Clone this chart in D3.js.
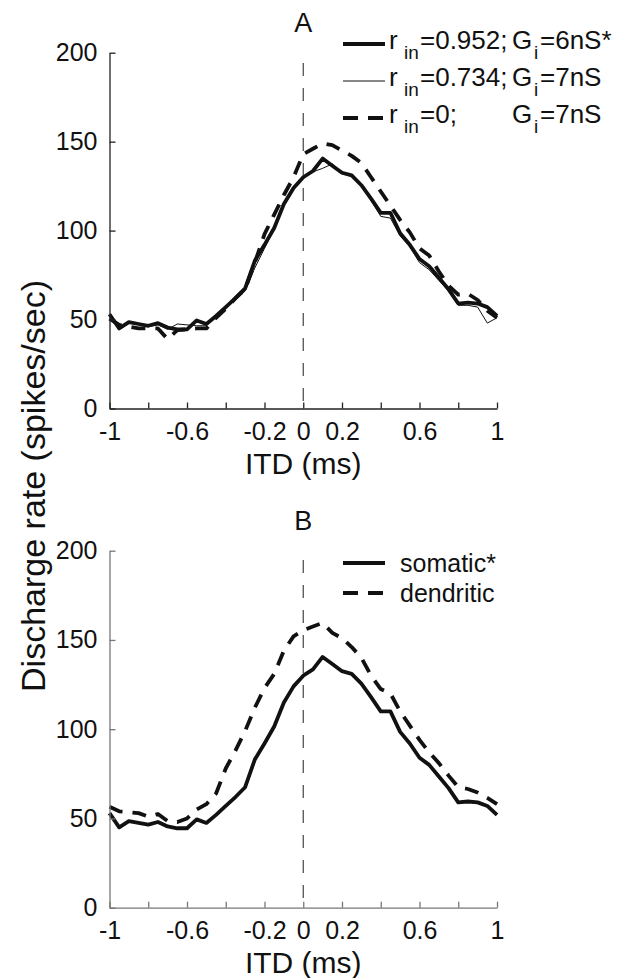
<!DOCTYPE html>
<html>
<head>
<meta charset="utf-8">
<script src="https://cdn.jsdelivr.net/npm/d3@7"></script>
<style>
  body { margin: 0; background: #fff; }
  svg { font-family: "Liberation Sans", Arial, Helvetica, sans-serif; }
</style>
</head>
<body>
<svg id="canvas" width="625" height="978"></svg>
<script>
// ITD values (ms), one sample every 0.05 ms
const itd = [-1, -0.95, -0.9, -0.85, -0.8, -0.75, -0.7, -0.65, -0.6, -0.55, -0.5,
  -0.45, -0.4, -0.35, -0.3, -0.25, -0.2, -0.15, -0.1, -0.05, 0,
  0.05, 0.1, 0.15, 0.2, 0.25, 0.3, 0.35, 0.4, 0.45, 0.5,
  0.55, 0.6, 0.65, 0.7, 0.75, 0.8, 0.85, 0.9, 0.95, 1];

// r_in=0.952; G_i=6nS*  (same curve as "somatic*")
const somatic = [53, 45, 48.5, 47.5, 46.5, 48, 45.5, 44.5, 44.5, 49.5, 47.5,
  52, 57, 62, 67.5, 83, 92, 101.5, 115, 124, 130,
  133.5, 140.5, 136.5, 132.5, 131, 125.5, 118, 110, 110, 98.5,
  92, 84, 80, 73.5, 67, 59, 59.5, 59, 57, 52];

// r_in=0.734; G_i=7nS
const rin734 = [52, 46, 48, 47.5, 46, 47, 44.5, 47.5, 47, 46.5, 46.5,
  52, 57, 61, 66, 79, 90, 101, 114, 123, 130,
  133, 135, 137.5, 132.5, 130.5, 125, 117, 108, 107, 97,
  91, 82, 78, 72, 66, 58, 58, 57, 48, 51];

// r_in=0; G_i=7nS
const rin0 = [50.5, 47, 46, 45, 45, 45, 39, 44, 44.5, 45, 45,
  51, 56, 62, 67, 82, 98, 109, 120, 130, 143,
  146, 149, 148, 145, 142, 138, 130, 122, 114, 106,
  99, 90, 86, 77, 69, 64, 64.5, 61, 55, 51];

// dendritic
const dendritic = [56.5, 54, 53.5, 53, 51, 52.5, 48.5, 48, 50, 55, 58,
  64, 78, 88, 99, 112, 123, 131, 144, 152, 155.5,
  157.5, 159.5, 154, 151, 146, 140, 130, 122.5, 120, 110,
  102, 94, 87, 81, 74, 67.5, 66.5, 64.5, 61.5, 58];

const xTicks = [-1, -0.8, -0.6, -0.4, -0.2, 0, 0.2, 0.4, 0.6, 0.8, 1];
const xLabeled = [-1, -0.6, -0.2, 0, 0.2, 0.6, 1];
const yTicks = [0, 50, 100, 150, 200];

const legendA = [
  { r: "0.952;", g: "6nS*", style: "thick" },
  { r: "0.734;", g: "7nS", style: "thin" },
  { r: "0;", g: "7nS", style: "dash" }
];
const legendB = [
  { label: "somatic*", style: "thick" },
  { label: "dendritic", style: "dash" }
];

const svg = d3.select("#canvas");
const ink = "#111";

const styles = {
  thick: { w: 3.8, dash: null },
  thin: { w: 1, dash: null },
  dash: { w: 3.8, dash: "14,10" }
};

const x = d3.scaleLinear().domain([-1, 1]).range([109.5, 497]);

function panel(top, bottom, axisColor, title, series, dashTop) {
  const y = d3.scaleLinear().domain([0, 200]).range([bottom, top]);
  const g = svg.append("g");

  // vertical dashed line at ITD = 0
  g.append("line")
    .attr("x1", x(0)).attr("x2", x(0))
    .attr("y1", dashTop).attr("y2", y(0))
    .attr("stroke", "#444").attr("stroke-width", 1.2)
    .attr("stroke-dasharray", "13,12");

  const line = d3.line().x((d, i) => x(itd[i])).y(d => y(d));

  series.forEach(s => {
    const st = styles[s.style];
    g.append("path")
      .attr("d", line(s.values))
      .attr("fill", "none")
      .attr("stroke", ink)
      .attr("stroke-width", st.w)
      .attr("stroke-linejoin", "round")
      .attr("stroke-dasharray", st.dash);
  });

  const xAxis = d3.axisBottom(x)
    .tickValues(xTicks)
    .tickSizeInner(-6)
    .tickSizeOuter(0)
    .tickPadding(14)
    .tickFormat(v => xLabeled.some(l => Math.abs(l - v) < 1e-9) ? String(v) : "");

  const yAxis = d3.axisLeft(y)
    .tickValues(yTicks)
    .tickSizeInner(-6)
    .tickSizeOuter(0)
    .tickPadding(12);

  const gx = g.append("g").attr("transform", `translate(0,${y(0)})`).call(xAxis);
  const gy = g.append("g").attr("transform", `translate(${x(-1)},0)`).call(yAxis);

  [gx, gy].forEach(a => {
    a.select(".domain").attr("stroke", axisColor).attr("stroke-width", 1.3);
    a.selectAll(".tick line").attr("stroke", axisColor).attr("stroke-width", 1.3);
    a.selectAll(".tick text")
      .attr("fill", ink)
      .style("font-size", "25px")
      .style("font-family", "'Liberation Sans', Arial, sans-serif");
  });

  g.append("text")
    .attr("x", x(0)).attr("y", top - 21)
    .attr("text-anchor", "middle")
    .style("font-size", "27px")
    .attr("fill", ink)
    .text(title);

  g.append("text")
    .attr("x", x(0)).attr("y", y(0) + 65)
    .attr("text-anchor", "middle")
    .style("font-size", "30px")
    .attr("fill", ink)
    .text("ITD (ms)");

  return y;
}

panel(52.7, 408.5, "#222", "A", [
  { values: somatic, style: "thick" },
  { values: rin734, style: "thin" },
  { values: rin0, style: "dash" }
], 63);

panel(550.7, 907.7, "#777", "B", [
  { values: somatic, style: "thick" },
  { values: dendritic, style: "dash" }
], 560);

// shared y label
svg.append("text")
  .attr("transform", "translate(45,486) rotate(-90)")
  .attr("text-anchor", "middle")
  .style("font-size", "34px")
  .attr("fill", ink)
  .text("Discharge rate (spikes/sec)");

// legend A
const legA = svg.append("g");
legendA.forEach((d, i) => {
  const ly = 44 + i * 37;
  const st = styles[d.style];
  legA.append("line")
    .attr("x1", 343).attr("x2", 385).attr("y1", ly).attr("y2", ly)
    .attr("stroke", ink).attr("stroke-width", st.w)
    .attr("stroke-dasharray", d.style === "dash" ? "15,10" : null);
  const t = legA.append("text")
    .attr("y", ly + 5)
    .style("font-size", "26px")
    .attr("fill", ink);
  t.append("tspan").attr("x", 389).text("r");
  t.append("tspan").attr("x", 404).attr("dy", 10).style("font-size", "19px").text("in");
  t.append("tspan").attr("x", 420).attr("dy", -10).text("=" + d.r);
  t.append("tspan").attr("x", 512).text("G");
  t.append("tspan").attr("x", 534).attr("dy", 10).style("font-size", "19px").text("i");
  t.append("tspan").attr("x", 540).attr("dy", -10).text("=" + d.g);
});

// legend B
const legB = svg.append("g");
legendB.forEach((d, i) => {
  const ly = 563 + i * 30;
  const st = styles[d.style];
  legB.append("line")
    .attr("x1", 343).attr("x2", 385).attr("y1", ly).attr("y2", ly)
    .attr("stroke", ink).attr("stroke-width", st.w)
    .attr("stroke-dasharray", d.style === "dash" ? "15,10" : null);
  legB.append("text")
    .attr("x", 400).attr("y", ly + 9)
    .style("font-size", "25px")
    .attr("fill", ink)
    .text(d.label);
});
</script>
</body>
</html>
